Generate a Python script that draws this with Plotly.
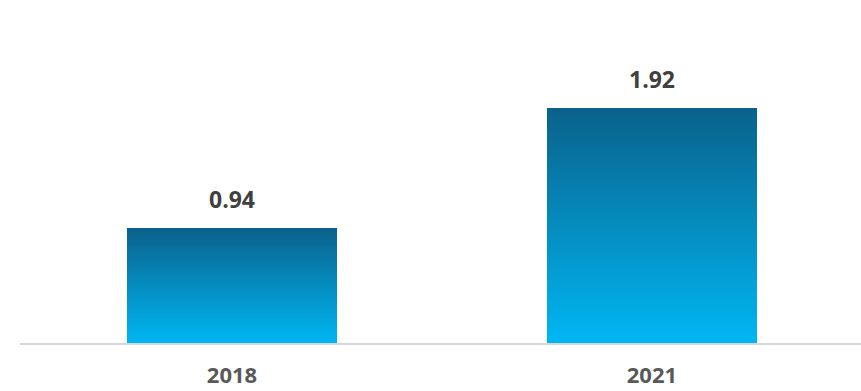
import plotly.graph_objects as go

categories = ["2018", "2021"]
values = [0.94, 1.92]
value_labels = ["0.94", "1.92"]

top_rgb = (10, 98, 140)
bottom_rgb = (0, 182, 242)
N = 60

fig = go.Figure()
for i in range(N):
    t = i / (N - 1)  # 0 bottom -> 1 top
    c = tuple(round(bottom_rgb[k] + (top_rgb[k] - bottom_rgb[k]) * t) for k in range(3))
    fig.add_trace(go.Bar(
        x=categories,
        y=[v / N for v in values],
        marker=dict(color="rgb(%d,%d,%d)" % c, line=dict(width=0)),
        width=0.5,
        hoverinfo="skip",
        showlegend=False,
    ))

for idx, (v, lab) in enumerate(zip(values, value_labels)):
    fig.add_annotation(x=idx, y=v, xref="x", yref="y", text=lab, showarrow=False,
                       yanchor="middle", yshift=29,
                       font=dict(family="Open Sans", size=23, color="#404040", weight="bold"))

fig.update_layout(
    barmode="stack",
    bargap=0,
    width=861, height=391,
    margin=dict(l=20, r=0, t=0, b=48, autoexpand=False),
    paper_bgcolor="white", plot_bgcolor="white",
    xaxis=dict(type="category", range=[-0.505, 1.498], showline=True,
               linecolor="#d6d6d6", linewidth=2, showgrid=False,
               ticks="", ticklabelstandoff=12, automargin=False,
               tickfont=dict(family="Open Sans", size=22, color="#595959", weight="bold")),
    yaxis=dict(range=[0, 2.798], visible=False, showgrid=False, zeroline=False,
               automargin=False),
)

fig.write_html("out.html", config={"displayModeBar": False},
               post_script="document.body.style.margin='0';")
